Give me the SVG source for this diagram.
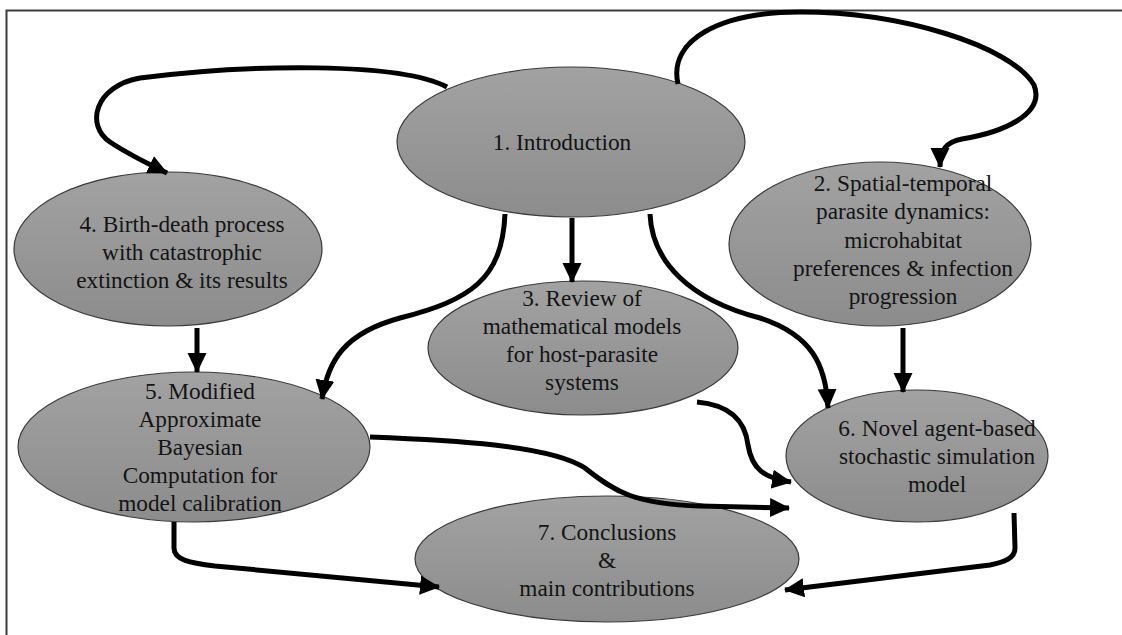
<svg xmlns="http://www.w3.org/2000/svg" width="1122" height="635" viewBox="0 0 1122 635">
<defs>
<linearGradient id="g" x1="0" y1="0" x2="0" y2="1">
<stop offset="0" stop-color="#a2a2a2"/>
<stop offset="1" stop-color="#8c8c8c"/>
</linearGradient>
<marker id="ah" markerUnits="userSpaceOnUse" markerWidth="22" markerHeight="20" refX="19" refY="9.5" orient="auto">
<path d="M0,0 L20,9.5 L0,19 Z" fill="#000"/>
</marker>
<style>
.n{fill:url(#g);stroke:#3a3a3a;stroke-width:1.2}
.t{font-family:"Liberation Serif","Times New Roman",serif;font-size:23.3px;fill:#141414;text-anchor:middle;dominant-baseline:central}
.c{fill:none;stroke:#000;stroke-width:5;stroke-linecap:butt;marker-end:url(#ah)}
</style>
</defs>
<rect x="0" y="0" width="1122" height="635" fill="#fff"/>
<rect x="6.5" y="10.5" width="1200" height="700" fill="none" stroke="#3c3c3c" stroke-width="2"/>
<g id="n1"><ellipse class="n" cx="571" cy="142" rx="174" ry="75"/><text class="t" x="562" y="142">1. Introduction</text></g>
<g id="n2"><ellipse class="n" cx="880" cy="244" rx="151" ry="82"/><text class="t" x="903" y="183">2. Spatial-temporal</text><text class="t" x="903" y="211">parasite dynamics:</text><text class="t" x="903" y="240">microhabitat</text><text class="t" x="903" y="268">preferences &amp; infection</text><text class="t" x="903" y="296">progression</text></g>
<g id="n4"><ellipse class="n" cx="168" cy="249" rx="154" ry="77"/><text class="t" x="182" y="224">4. Birth-death process</text><text class="t" x="182" y="252">with catastrophic</text><text class="t" x="182" y="280">extinction &amp; its results</text></g>
<g id="n3"><ellipse class="n" cx="583" cy="348" rx="155" ry="67"/><text class="t" x="582" y="298">3. Review of</text><text class="t" x="582" y="326">mathematical models</text><text class="t" x="582" y="354">for host-parasite</text><text class="t" x="582" y="382">systems</text></g>
<g id="n5"><ellipse class="n" cx="194" cy="447" rx="176" ry="75"/><text class="t" x="200" y="391">5. Modified</text><text class="t" x="200" y="419">Approximate</text><text class="t" x="200" y="447">Bayesian</text><text class="t" x="200" y="475">Computation for</text><text class="t" x="200" y="503">model calibration</text></g>
<g id="n6"><ellipse class="n" cx="917" cy="456" rx="131" ry="66"/><text class="t" x="937" y="428">6. Novel agent-based</text><text class="t" x="937" y="456">stochastic simulation</text><text class="t" x="937" y="484">model</text></g>
<g id="n7"><ellipse class="n" cx="607" cy="559" rx="192" ry="63"/><text class="t" x="607" y="532">7. Conclusions</text><text class="t" x="607" y="560">&amp;</text><text class="t" x="607" y="588">main contributions</text></g>
<g id="connectors">
<path class="c" d="M447,87 C400,62 250,64 140,78 C95,86 85,125 110,142 C125,152 140,160 167,173"/>
<path class="c" d="M678,84 C668,40 720,12 800,12 C900,12 1010,45 1034,85 C1046,115 1000,133 962,139 C946,142 940,150 940,167"/>
<path class="c" d="M572,218 L572,282"/>
<path class="c" d="M505,214 C502,280 470,300 400,318 C345,333 328,360 322,399"/>
<path class="c" d="M650,214 C652,262 690,300 760,318 C812,335 826,365 828,408"/>
<path class="c" d="M903,328 L903,392"/>
<path class="c" d="M197,328 L197,372"/>
<path class="c" d="M697,402 C730,405 745,420 748,445 C752,470 765,478 791,482"/>
<path class="c" d="M370,437 C450,440 550,445 585,468 C615,492 635,504 700,506 L789,508"/>
<path class="c" d="M174,522 L174,548 C174,560 190,563 215,566 L439,587"/>
<path class="c" d="M1014,513 L1015,548 C1015,558 1005,562 990,565 L785,590"/>
</g>
</svg>
